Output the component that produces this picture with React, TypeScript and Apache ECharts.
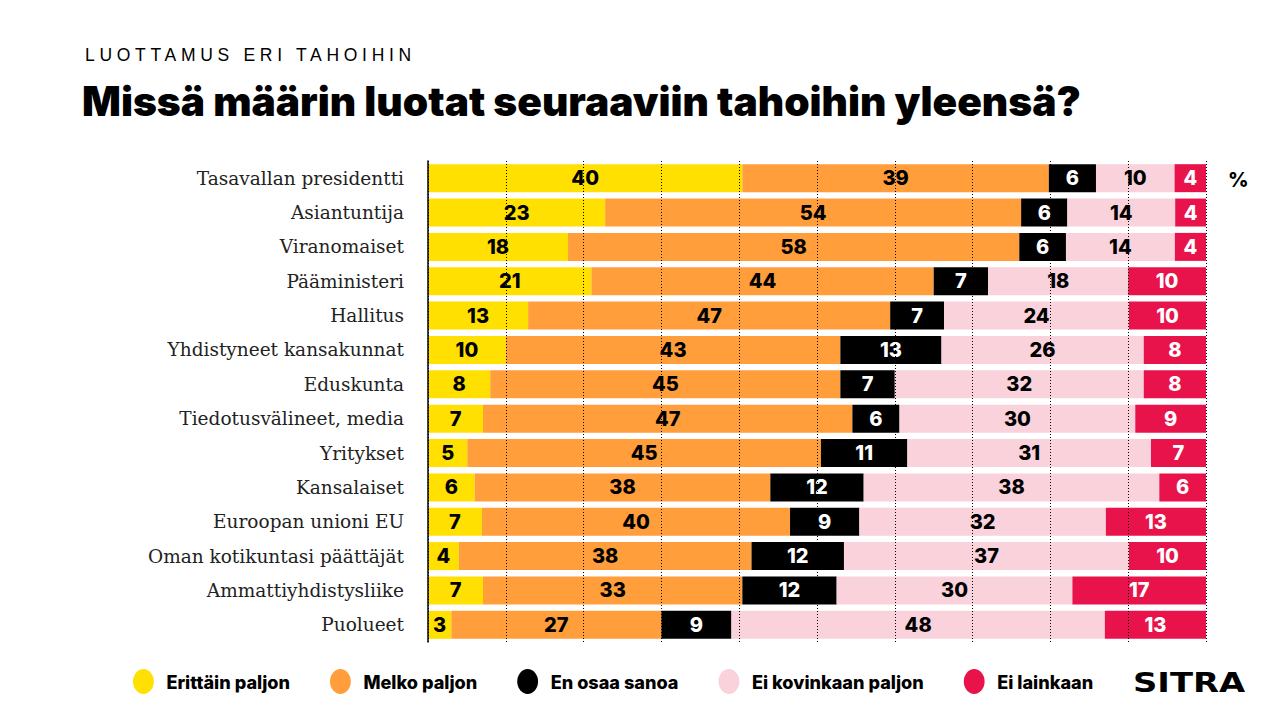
import React, { useEffect, useRef } from "react";
import * as echarts from "echarts";

const categories = [
  "Tasavallan presidentti",
  "Asiantuntija",
  "Viranomaiset",
  "Pääministeri",
  "Hallitus",
  "Yhdistyneet kansakunnat",
  "Eduskunta",
  "Tiedotusvälineet, media",
  "Yritykset",
  "Kansalaiset",
  "Euroopan unioni EU",
  "Oman kotikuntasi päättäjät",
  "Ammattiyhdistysliike",
  "Puolueet",
];

const seriesNames = [
  "Erittäin paljon",
  "Melko paljon",
  "En osaa sanoa",
  "Ei kovinkaan paljon",
  "Ei lainkaan",
];

const erittainPaljon = [40, 23, 18, 21, 13, 10, 8, 7, 5, 6, 7, 4, 7, 3];
const melkoPaljon = [39, 54, 58, 44, 47, 43, 45, 47, 45, 38, 40, 38, 33, 27];
const enOsaaSanoa = [6, 6, 6, 7, 7, 13, 7, 6, 11, 12, 9, 12, 12, 9];
const eiKovinkaanPaljon = [10, 14, 14, 18, 24, 26, 32, 30, 31, 38, 32, 37, 30, 48];
const eiLainkaan = [4, 4, 4, 10, 10, 8, 8, 9, 7, 6, 13, 10, 17, 13];

const seriesValues = [erittainPaljon, melkoPaljon, enOsaaSanoa, eiKovinkaanPaljon, eiLainkaan];
const colors = ["#FFE000", "#FF9E3B", "#000000", "#F9D2DB", "#E8134B"];
const labelColors = ["#000", "#000", "#fff", "#000", "#fff"];

const xTicks = [0, 10, 20, 30, 40, 50, 60, 70, 80, 90, 100];

const HEAVY = "Inter";

export default function App() {
  const ref = useRef<HTMLDivElement>(null);

  useEffect(() => {
    if (!ref.current) return;
    const chart = echarts.init(ref.current, null, { renderer: "svg" });
    const totals = categories.map((_, i) =>
      seriesValues.reduce((s, arr) => s + arr[i], 0)
    );
    const ellipse = "path://M10,0 A10,12 0 1,1 10,24 A10,12 0 1,1 10,0 Z";
    chart.setOption({
      animation: false,
      color: colors,
      grid: { left: 428, right: 74, top: 161, bottom: 78, containLabel: false },
      xAxis: {
        type: "value",
        min: xTicks[0],
        max: xTicks[xTicks.length - 1],
        interval: 10,
        z: 10,
        axisLabel: { show: false },
        axisLine: { show: false },
        axisTick: { show: false },
        splitLine: {
          show: true,
          lineStyle: { color: "#000", width: 1, type: [1, 2] },
        },
      },
      yAxis: {
        type: "category",
        data: categories,
        inverse: true,
        z: 11,
        axisTick: { show: false },
        axisLine: { show: true, lineStyle: { color: "#000", width: 1.5 } },
        axisLabel: {
          color: "#222",
          fontFamily: "DejaVu Serif",
          fontSize: 18.5,
          margin: 24,
        },
      },
      legend: {
        left: 133,
        top: 669,
        padding: 0,
        itemWidth: 22,
        itemHeight: 25,
        itemGap: 40,
        icon: ellipse,
        textStyle: {
          fontFamily: HEAVY,
          fontWeight: 800,
          fontSize: 18.1,
          color: "#000",
          padding: [0, 0, 0, 7],
        },
        data: seriesNames,
      },
      graphic: [
        {
          type: "text",
          left: 82,
          top: 81,
          style: {
            text: "Missä määrin luotat seuraaviin tahoihin yleensä?",
            fontFamily: HEAVY,
            fontWeight: 900,
            fontSize: 40.7,
            fill: "#000",
          },
        },
        {
          type: "text",
          left: 1228,
          top: 170,
          style: {
            text: "%",
            fontFamily: HEAVY,
            fontWeight: 800,
            fontSize: 20,
            fill: "#000",
          },
        },
        {
          type: "text",
          x: 1133,
          y: 670,
          scaleX: 1.3,
          style: {
            text: "SITRA",
            fontFamily: "DejaVu Sans",
            fontWeight: "bold",
            fontSize: 26,
            fill: "#000",
          },
        },
      ],
      series: seriesNames.map((name, si) => ({
        name,
        type: "bar",
        stack: "total",
        barWidth: 28,
        z: 2,
        data: seriesValues[si].map((v, i) => (v / totals[i]) * 100),
        itemStyle: { color: colors[si] },
        label: {
          show: true,
          position: "inside",
          color: labelColors[si],
          fontFamily: HEAVY,
          fontWeight: 800,
          fontSize: 20,
          formatter: (p: any) => String(seriesValues[si][p.dataIndex]),
        },
      })),
    });
    return () => chart.dispose();
  }, []);

  return (
    <div style={{ position: "absolute", left: 0, top: 0, width: 1280, height: 720, background: "#fff" }}>
      <div ref={ref} style={{ position: "absolute", left: 0, top: 0, width: 1280, height: 720 }} />
      <div
        style={{
          position: "absolute",
          left: 85,
          top: 45,
          fontFamily: "'Liberation Sans', Arial, sans-serif",
          fontSize: "17.5px",
          lineHeight: "20px",
          letterSpacing: "4.7px",
          color: "#000",
          whiteSpace: "nowrap",
        }}
      >
        LUOTTAMUS ERI TAHOIHIN
      </div>
    </div>
  );
}
